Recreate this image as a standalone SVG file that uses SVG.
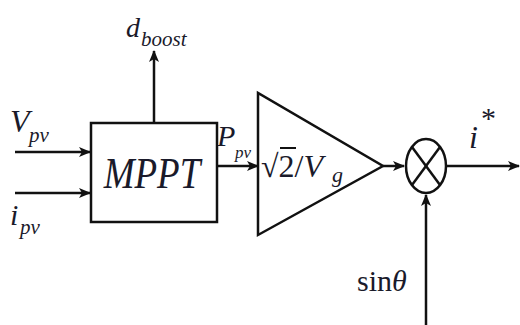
<svg xmlns="http://www.w3.org/2000/svg" width="520" height="325" viewBox="0 0 520 325">
<defs>
<style>
.ln{stroke:#111;stroke-width:2.5;fill:none}
.m{font-family:"Liberation Serif","Times New Roman",serif;font-style:italic;fill:#1a1a2a}
.r{font-family:"Liberation Serif","Times New Roman",serif;fill:#1a1a2a}
</style>
<marker id="ah" viewBox="0 0 12 10" refX="11" refY="5" markerWidth="12" markerHeight="10" markerUnits="userSpaceOnUse" orient="auto">
<path d="M0,0 L12,5 L0,10 L3,5 Z" fill="#111"/>
</marker>
</defs>
<rect width="520" height="325" fill="#fff"/>
<g id="connectors">
<line class="ln" x1="15" y1="152" x2="90" y2="152" marker-end="url(#ah)"/>
<line class="ln" x1="15" y1="193" x2="90" y2="193" marker-end="url(#ah)"/>
<line class="ln" x1="154" y1="123" x2="154" y2="51" marker-end="url(#ah)"/>
<line class="ln" x1="217" y1="166" x2="258" y2="166" marker-end="url(#ah)"/>
<line class="ln" x1="383" y1="166" x2="404" y2="166" marker-end="url(#ah)"/>
<line class="ln" x1="446" y1="166" x2="519" y2="166" marker-end="url(#ah)"/>
<line class="ln" x1="426" y1="325" x2="426" y2="195" marker-end="url(#ah)"/>
</g>
<g id="labels">
<text class="m" x="10" y="132" font-size="32">V</text>
<text class="m" x="29" y="142" font-size="21">pv</text>
<text class="m" x="10" y="225" font-size="30">i</text>
<text class="m" x="20" y="234" font-size="21">pv</text>
<text class="m" x="126" y="37" font-size="28">d</text>
<text class="m" x="141" y="46" font-size="21">boost</text>
<text class="m" x="217" y="146" font-size="30">P</text>
<text class="m" x="235" y="158" font-size="17">pv</text>
<text class="m" x="469" y="148" font-size="32">i</text>
<text class="r" x="481" y="128" font-size="30">*</text>
<text class="r" x="357" y="291" font-size="30">sin<tspan class="m">θ</tspan></text>
</g>
<g id="mppt">
<rect class="ln" x="91" y="123" width="126" height="99"/>
<text class="m" transform="translate(152,188) scale(1,1.2)" font-size="37" text-anchor="middle">MPPT</text>
</g>
<g id="gain">
<polygon class="ln" points="258,93 258,235 383,166"/>
<text class="r" x="261" y="177" font-size="32">√2/<tspan class="m">V</tspan></text>
<line stroke="#111" stroke-width="2" x1="280" y1="148" x2="296" y2="148"/>
<text class="m" x="332" y="182" font-size="22">g</text>
</g>
<g id="multiplier">
<ellipse class="ln" cx="426" cy="166" rx="20" ry="27"/>
<line class="ln" x1="412" y1="147" x2="440" y2="185"/>
<line class="ln" x1="440" y1="147" x2="412" y2="185"/>
</g>
</svg>
